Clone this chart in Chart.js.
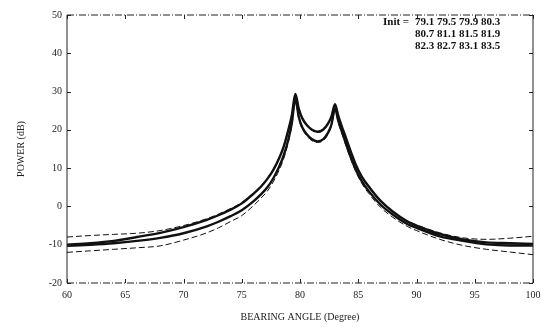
<!DOCTYPE html>
<html>
<head>
<meta charset="utf-8">
<script src="https://cdn.jsdelivr.net/npm/chart.js@4/dist/chart.umd.min.js"></script>
<style>
  html, body { margin: 0; padding: 0; background: #fff; }
  #wrap { width: 548px; height: 328px; }
</style>
</head>
<body>
<div id="wrap"><canvas id="power-chart" width="548" height="328"></canvas></div>
<script>
const angles = [60, 62, 64, 66, 68, 70, 72, 73, 74, 75, 76, 76.6, 77.2, 77.7, 78.2, 78.6, 79, 79.3, 79.6, 79.9,
                80.2, 80.6, 81, 81.5, 82, 82.4, 82.7, 83, 83.3, 83.6, 83.9, 84.4, 84.8, 85.3, 85.9, 86.9,
                87.9, 89.2, 90, 92, 94, 96, 98, 100];

// outer thick curve (dB)
const powerOuter = [-10, -9.6, -9.0, -8.0, -6.9, -5.4, -3.5, -2.3, -0.9, 0.8, 3.3, 5.0, 7.2, 9.5, 12.5, 15.6, 20, 23.8, 29.4, 25.5,
                    23, 21.2, 20.1, 19.5, 20.1, 21.6, 23.5, 26.7, 23.5, 20.8, 18.3, 14, 10.8, 7.8, 5.2, 1.5,
                    -1.2, -3.9, -5.0, -7.2, -8.6, -9.4, -9.6, -9.8];
// inner thick curve (dB)
const powerInner = [-10.3, -10, -9.6, -9.0, -8.2, -7.0, -5.2, -4.0, -2.6, -1.0, 1.3, 3.0, 5.0, 7.3, 10.3, 13.3, 17.5, 21.8, 28.1, 23.3,
                    20.6, 18.8, 17.6, 17.0, 17.6, 19.2, 21.4, 25.5, 22.2, 19.5, 16.8, 12.5, 9.5, 6.6, 4.0, 0.5,
                    -2.0, -4.6, -5.6, -7.8, -9.0, -9.9, -10.2, -10.2];
// thin upper curve (dB)
const powerUpper = [-8.0, -7.6, -7.3, -7.0, -6.3, -5.0, -3.2, -2.0, -0.6, 1.0, 3.5, 5.2, 7.4, 9.7, 12.7, 15.8, 20.2, 24.0, 29.2, 25.3,
                    22.8, 21.0, 19.9, 19.3, 19.9, 21.4, 23.3, 26.5, 23.3, 20.6, 18.1, 13.8, 10.6, 7.6, 5.0, 1.3,
                    -1.3, -3.8, -4.8, -6.9, -8.2, -8.6, -8.3, -7.8];
// thin lower curve (dB)
const powerLower = [-12.0, -11.6, -11.2, -10.8, -10.3, -8.8, -6.9, -5.6, -4.0, -2.4, 0.2, 2.0, 4.0, 6.4, 9.4, 12.5, 16.8, 21.2, 27.5, 22.8,
                    20.2, 18.4, 17.2, 16.7, 17.2, 18.8, 21.0, 25.0, 21.7, 19.0, 16.2, 12.0, 9.0, 6.0, 3.4, -0.2,
                    -2.7, -5.2, -6.3, -8.6, -10.2, -11.2, -11.9, -12.6];

const xTicks = [60, 65, 70, 75, 80, 85, 90, 95, 100];
const yTicks = [-20, -10, 0, 10, 20, 30, 40, 50];
const initRows = [
    ['Init =', '79.1 79.5 79.9 80.3'],
    ['', '80.7 81.1 81.5 81.9'],
    ['', '82.3 82.7 83.1 83.5']
];

const SERIF = '"Liberation Serif", "DejaVu Serif", serif';

function toPoints(values) {
    return angles.map((a, i) => ({ x: a, y: values[i] }));
}

function curve(values, width, dash) {
    return {
        data: toPoints(values),
        borderColor: '#111',
        borderWidth: width,
        borderDash: dash,
        pointRadius: 0,
        fill: false,
        cubicInterpolationMode: 'monotone'
    };
}

// frame, inward tick marks and the "Init =" block
const framePlugin = {
    id: 'frame',
    afterDraw(chart) {
        const { ctx, chartArea: a, scales } = chart;
        ctx.save();
        ctx.strokeStyle = '#222';
        ctx.lineWidth = 1;
        ctx.beginPath();
        ctx.moveTo(a.left, a.top); ctx.lineTo(a.left, a.bottom);
        ctx.moveTo(a.right, a.top); ctx.lineTo(a.right, a.bottom);
        ctx.stroke();
        ctx.setLineDash([7, 2, 1, 2]);
        ctx.beginPath();
        ctx.moveTo(a.left, a.top); ctx.lineTo(a.right, a.top);
        ctx.moveTo(a.left, a.bottom); ctx.lineTo(a.right, a.bottom);
        ctx.stroke();
        ctx.setLineDash([]);

        ctx.beginPath();
        yTicks.forEach(v => {
            const y = Math.round(scales.y.getPixelForValue(v)) + 0.5;
            ctx.moveTo(a.left, y); ctx.lineTo(a.left + 4, y);
            ctx.moveTo(a.right, y); ctx.lineTo(a.right - 4, y);
        });
        xTicks.forEach(v => {
            const x = Math.round(scales.x.getPixelForValue(v)) + 0.5;
            ctx.moveTo(x, a.bottom); ctx.lineTo(x, a.bottom - 4);
            ctx.moveTo(x, a.top); ctx.lineTo(x, a.top + 4);
        });
        ctx.stroke();

        ctx.fillStyle = '#111';
        ctx.font = 'bold 11px ' + SERIF;
        ctx.textBaseline = 'middle';
        initRows.forEach((row, i) => {
            const y = a.top + 7 + i * 12;
            ctx.textAlign = 'left';
            ctx.fillText(row[0], a.right - 150, y);
            ctx.fillText(row[1], a.right - 118, y);
        });
        ctx.restore();
    }
};

const chart = new Chart(document.getElementById('power-chart').getContext('2d'), {
    type: 'line',
    data: {
        datasets: [
            curve(powerUpper, 1, [6, 3]),
            curve(powerLower, 1, [6, 3]),
            curve(powerOuter, 2.4, []),
            curve(powerInner, 2.4, [])
        ]
    },
    options: {
        responsive: false,
        animation: false,
        layout: { padding: { left: 0, right: 15, top: 15, bottom: 0 } },
        plugins: {
            legend: { display: false },
            tooltip: { enabled: false }
        },
        scales: {
            x: {
                type: 'linear',
                min: 60,
                max: 100,
                afterBuildTicks: s => { s.ticks = xTicks.map(v => ({ value: v })); },
                afterFit: s => { s.height = 45; },
                grid: { display: false, drawTicks: false },
                border: { display: false },
                ticks: { color: '#222', padding: 6, font: { family: SERIF, size: 10 } },
                title: {
                    display: true,
                    text: 'BEARING ANGLE (Degree)',
                    color: '#222',
                    font: { family: SERIF, size: 10 },
                    padding: { top: 0, bottom: 5 }
                }
            },
            y: {
                min: -20,
                max: 50,
                afterBuildTicks: s => { s.ticks = yTicks.map(v => ({ value: v })); },
                afterFit: s => { s.width = 67; },
                grid: { display: false, drawTicks: false },
                border: { display: false },
                ticks: { color: '#222', padding: 5, font: { family: SERIF, size: 10 } },
                title: {
                    display: true,
                    text: 'POWER (dB)',
                    color: '#222',
                    font: { family: SERIF, size: 10 },
                    padding: { top: 15, bottom: 0 }
                }
            }
        }
    },
    plugins: [framePlugin]
});
</script>
</body>
</html>
